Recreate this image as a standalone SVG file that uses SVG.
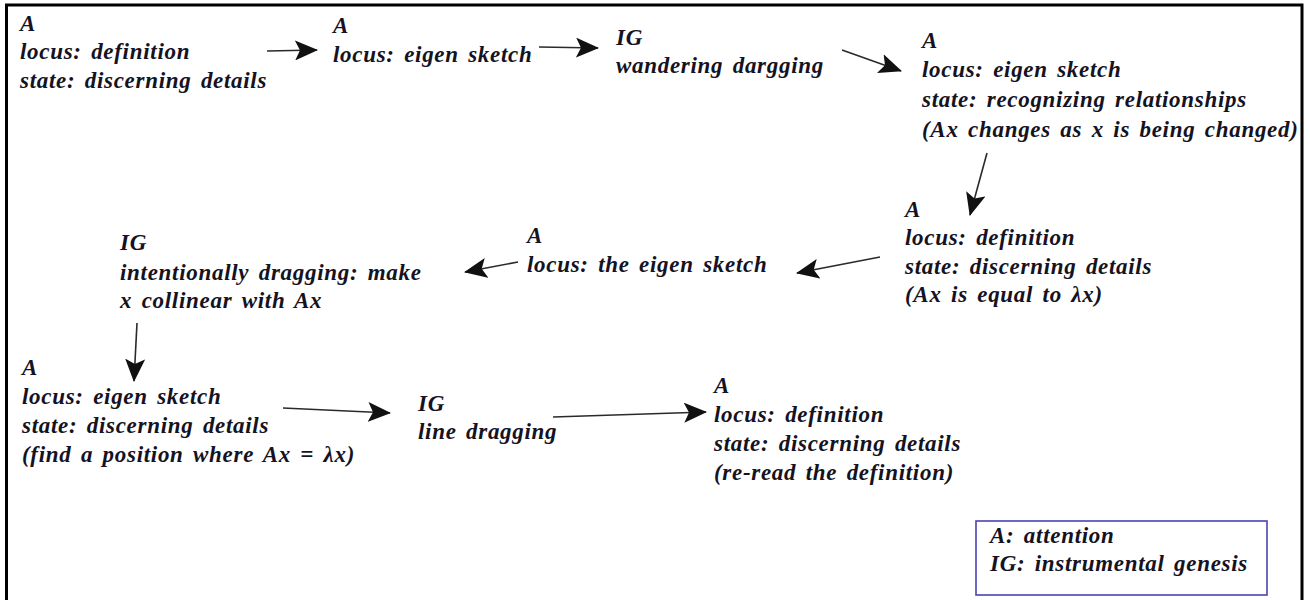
<svg xmlns="http://www.w3.org/2000/svg" width="1310" height="600" viewBox="0 0 1310 600">
<style>
text{font-family:"Liberation Serif","Times New Roman",serif;font-weight:bold;font-style:italic;font-size:23px;fill:#15131f;letter-spacing:0.7px;word-spacing:3px}
.c{stroke:#2a2a2a;stroke-width:1.6;fill:none;marker-end:url(#ah)}
.frame{stroke:#000;stroke-width:3;fill:none}
.legend{stroke:#4b43b4;stroke-width:1.6;fill:#fff}
</style>
<defs>
<marker id="ah" viewBox="0 0 23 20" refX="22" refY="10" markerWidth="23" markerHeight="20" markerUnits="userSpaceOnUse" orient="auto">
<path d="M0,0 L23,10 L0,20 L5,10 z" fill="#111"/>
</marker>
</defs>
<rect width="1310" height="600" fill="#fff"/>
<path class="frame" d="M6.5,600 V5 H1302 V600"/>

<g id="n1"><text x="20" y="31">A</text><text x="20" y="59">locus: definition</text><text x="20" y="88">state: discerning details</text></g>
<g id="n2"><text x="333" y="33">A</text><text x="333" y="62">locus: eigen sketch</text></g>
<g id="n3"><text x="616" y="45">IG</text><text x="616" y="73">wandering dargging</text></g>
<g id="n4"><text x="922" y="48">A</text><text x="922" y="77">locus: eigen sketch</text><text x="922" y="107">state: recognizing relationships</text><text x="922" y="137">(Ax changes as x is being changed)</text></g>
<g id="n5"><text x="905" y="217">A</text><text x="905" y="245">locus: definition</text><text x="905" y="274">state: discerning details</text><text x="905" y="302">(Ax is equal to λx)</text></g>
<g id="n6"><text x="527" y="243">A</text><text x="527" y="272">locus: the eigen sketch</text></g>
<g id="n7"><text x="120" y="250">IG</text><text x="120" y="280">intentionally dragging: make</text><text x="120" y="308">x collinear with Ax</text></g>
<g id="n8"><text x="22" y="375">A</text><text x="22" y="404">locus: eigen sketch</text><text x="22" y="433">state: discerning details</text><text x="22" y="462">(find a position where Ax = λx)</text></g>
<g id="n9"><text x="418" y="411">IG</text><text x="418" y="439">line dragging</text></g>
<g id="n10"><text x="714" y="393">A</text><text x="714" y="422">locus: definition</text><text x="714" y="451">state: discerning details</text><text x="714" y="480">(re-read the definition)</text></g>

<g id="legend"><rect class="legend" x="976" y="521" width="291" height="74"/><text x="990" y="543">A: attention</text><text x="990" y="571">IG: instrumental genesis</text></g>

<g id="connectors">
<path class="c" d="M267,51 L317,50"/>
<path class="c" d="M539,47 L598,48"/>
<path class="c" d="M842,50 L901,71"/>
<path class="c" d="M987,153 L970,215"/>
<path class="c" d="M880,257 L797,273"/>
<path class="c" d="M518,262 L465,272"/>
<path class="c" d="M137,323 L134,381"/>
<path class="c" d="M283,408 L390,413"/>
<path class="c" d="M553,417 L706,412"/>
</g>
</svg>
